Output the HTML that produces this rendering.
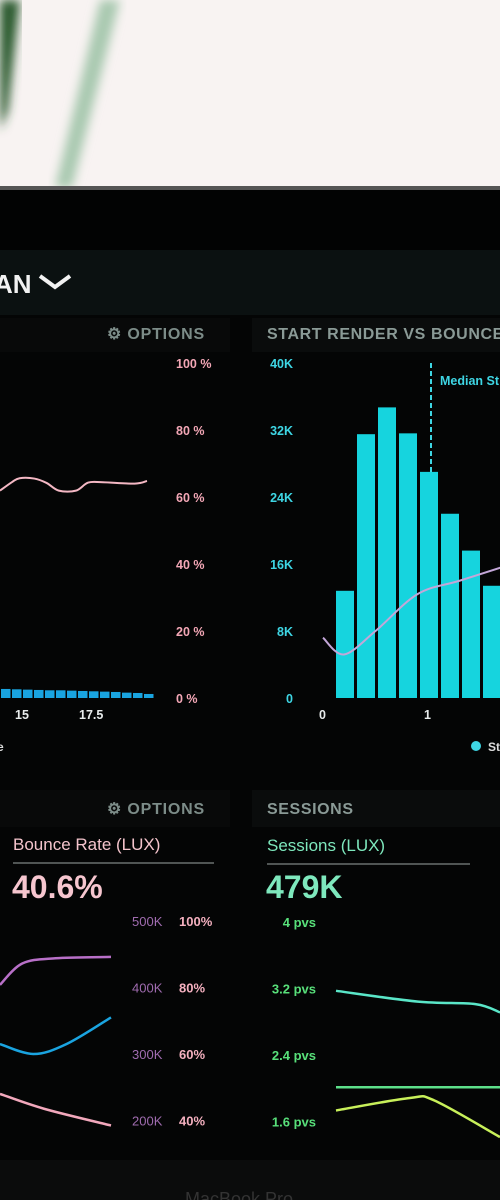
<!DOCTYPE html>
<html><head><meta charset="utf-8"><style>
body{margin:0;width:500px;height:1200px;overflow:hidden;background:#050606;font-family:"Liberation Sans",sans-serif}
svg{display:block}
text{font-family:"Liberation Sans",sans-serif;font-weight:bold}
</style></head><body>
<svg id="s" width="500" height="1200">
<defs>
<filter id="bl"><feGaussianBlur stdDeviation="5"/></filter>
</defs>
<rect x="0" y="0" width="500" height="188" fill="#f8f3f2"/>
<polygon points="0,0 20,0 8,110 0,130" fill="#2a5a2e" filter="url(#bl)"/>
<polygon points="100,0 120,0 72,188 55,188" fill="#a9c9b0" filter="url(#bl)"/>
<rect x="0" y="186" width="500" height="4" fill="#555"/>
<rect x="0" y="190" width="500" height="60" fill="#020303"/>
<rect x="0" y="250" width="500" height="65" fill="#0b1111"/>
<text x="-6" y="293" fill="#f2f2f2" font-size="26">AN</text>
<polyline points="40,276 55,287 70,276" fill="none" stroke="#f2f2f2" stroke-width="4"/>
<rect x="0" y="315" width="500" height="845" fill="#040505"/>
<rect x="0" y="318" width="230" height="34" fill="#080909"/>
<rect x="252" y="318" width="248" height="34" fill="#0a0c0c"/>
<text x="107" y="339" fill="#7c8c88" font-size="16" letter-spacing="0.8">⚙ OPTIONS</text>
<text x="267" y="339" fill="#8a9a96" font-size="16" letter-spacing="0.6">START RENDER VS BOUNCE</text>
<rect x="0" y="790" width="230" height="37" fill="#080909"/>
<rect x="252" y="790" width="248" height="37" fill="#0a0c0c"/>
<text x="107" y="814" fill="#7c8c88" font-size="16" letter-spacing="0.8">⚙ OPTIONS</text>
<text x="267" y="814" fill="#8a9a96" font-size="16" letter-spacing="0.6">SESSIONS</text>
<text x="13" y="850" fill="#f4c4cc" font-size="17" style="font-weight:normal">Bounce Rate (LUX)</text>
<line x1="13" y1="863" x2="214" y2="863" stroke="#6a706e" stroke-width="1.5"/>
<text x="12" y="898" fill="#f6c6cf" font-size="32">40.6%</text>
<text x="267" y="851" fill="#7ee8bd" font-size="17" style="font-weight:normal">Sessions (LUX)</text>
<line x1="267" y1="864" x2="470" y2="864" stroke="#6a706e" stroke-width="1.5"/>
<text x="266" y="898" fill="#7ee8bd" font-size="32">479K</text>
<rect x="0" y="1160" width="500" height="40" fill="#0b0c0c"/>
<text x="185" y="1205" fill="#333" font-size="18" style="font-weight:normal">MacBook Pro</text>
<g id="charts"></g>
</svg>
<script>
const pctTicks=["100 %","80 %","60 %","40 %","20 %","0 %"];
const kTicks=["40K","32K","24K","16K","8K","0"];
const histValues=[12.8,31.5,34.7,31.6,27,22,17.6,13.4];
const bounceCurve=[[0,61.9],[0.25,64.5],[0.4,65.6],[0.7,65.5],[0.95,64.2],[1.2,61.9],[1.55,61.9],[1.8,64.3],[2.1,64.4],[2.75,64],[3,64.8]];
const blueBars=[2.7,2.6,2.5,2.4,2.3,2.3,2.2,2.1,2,1.9,1.8,1.6,1.5,1.2];
const leftXTicks=["15","17.5"];
const renderBounce=[[0,18],[0.2,13],[0.5,20],[0.9,31],[1.3,35],[1.7,39]];
const histXTicks=["0","1"];
const kTicksB=["500K","400K","300K","200K"];
const pctTicksB=["100%","80%","60%","40%"];
const pvsTicks=["4 pvs","3.2 pvs","2.4 pvs","1.6 pvs"];
const purpleSeries=[[0,404],[0.2,436],[0.5,444],[1,446]];
const blueSeries=[[0,63],[0.3,60],[0.6,63],[1,71]];
const pinkSeries=[[0,48],[0.4,43.5],[1,38.5]];
const tealSeries=[[0,3.16],[0.5,3.03],[0.85,3.0],[1,2.9]];
const greenSeries=[[0,2.0],[1,2.0]];
const limeSeries=[[0,1.72],[0.45,1.87],[0.6,1.84],[1,1.4]];

const NS="http://www.w3.org/2000/svg";
const G=document.getElementById('charts');
function mk(tag,attrs,name,txt){const e=document.createElementNS(NS,tag);for(const k in attrs)e.setAttribute(k,attrs[k]);


if(txt!==undefined)e.textContent=txt;G.appendChild(e);return e;}
function path(pts,fx,fy){return pts.map((p,i)=>(i?'L':'M')+fx(p[0]).toFixed(1)+','+fy(p[1]).toFixed(1)).join(' ');}
function smooth(pts,fx,fy){const P=pts.map(p=>[fx(p[0]),fy(p[1])]);let d='M'+P[0].join(',');
for(let i=0;i<P.length-1;i++){const p0=P[i-1]||P[i],p1=P[i],p2=P[i+1],p3=P[i+2]||p2;
const c1=[p1[0]+(p2[0]-p0[0])/6,p1[1]+(p2[1]-p0[1])/6],c2=[p2[0]-(p3[0]-p1[0])/6,p2[1]-(p3[1]-p1[1])/6];
d+=` C${c1.join(',')} ${c2.join(',')} ${p2.join(',')}`;}return d;}

// top-left chart
const yPct=v=>698-v*3.35;
pctTicks.forEach((t,i)=>mk('text',{x:176,y:368+i*67,fill:'#f3a7b6','font-size':12.5},'y-axis-pct-label',t));
const xL=v=>v*49;
mk('path',{d:smooth(bounceCurve,xL,yPct),fill:'none',stroke:'#f4b8c4','stroke-width':2},'bounce-line');
blueBars.forEach((v,i)=>mk('rect',{x:1+i*11,y:yPct(v),width:9.5,height:v*3.35,fill:'#19a4e0'},'session-bar'));
leftXTicks.forEach((t,i)=>mk('text',{x:15+i*64,y:719,fill:'#e8ecec','font-size':12.5},'x-axis-label',t));
mk('text',{x:-3,y:751,fill:'#ddd','font-size':12},'legend-label','e');

// top-right histogram
const yK=v=>698-v*8.375;
kTicks.forEach((t,i)=>mk('text',{x:293,y:368+i*67,fill:'#3ed6e4','font-size':12.5,'text-anchor':'end'},'y-axis-k-label',t));
const xB=i=>336+i*21;
histValues.forEach((v,i)=>mk('rect',{x:xB(i),y:yK(v),width:18,height:v*8.375,fill:'#16d4de'},'hist-bar'));
mk('line',{x1:431,y1:363,x2:431,y2:472,stroke:'#3ed6e4','stroke-width':2,'stroke-dasharray':'5,3'},'median-line');
mk('text',{x:440,y:385,fill:'#3ed6e4','font-size':12.5},'median-label','Median St');
const xR=v=>323+v*105;
mk('path',{d:smooth(renderBounce,xR,v=>698-v*3.35),fill:'none',stroke:'#c3a6d8','stroke-width':2},'render-bounce-line');
histXTicks.forEach((t,i)=>mk('text',{x:319+i*105,y:719,fill:'#e8ecec','font-size':12.5},'x-axis-label',t));
mk('circle',{cx:476,cy:746,r:5,fill:'#3ed6e4'},'legend-dot');
mk('text',{x:488,y:751,fill:'#ddd','font-size':12},'legend-label','St');

// bottom-left
kTicksB.forEach((t,i)=>mk('text',{x:132,y:926+i*66.5,fill:'#a06cb0','font-size':13,style:'font-weight:normal'},'y-axis-k-label',t));
pctTicksB.forEach((t,i)=>mk('text',{x:179,y:926+i*66.5,fill:'#f4b0bf','font-size':13},'y-axis-pct-label',t));
const xBL=v=>v*111, yBK=v=>921+(500-v)*0.665, yBP=v=>921+(100-v)*3.325;
mk('path',{d:smooth(purpleSeries,xBL,yBK),fill:'none',stroke:'#b870c8','stroke-width':2.5},'purple-line');
mk('path',{d:smooth(blueSeries,xBL,yBP),fill:'none',stroke:'#1aa4e0','stroke-width':2.5},'blue-line');
mk('path',{d:smooth(pinkSeries,xBL,yBP),fill:'none',stroke:'#f2a8bc','stroke-width':2.5},'pink-line');

// bottom-right
pvsTicks.forEach((t,i)=>mk('text',{x:316,y:927+i*66.5,fill:'#58e07a','font-size':13,'text-anchor':'end'},'y-axis-pvs-label',t));
const xBR=v=>336+v*164, yPV=v=>921+(4-v)*83.1;
mk('path',{d:smooth(tealSeries,xBR,yPV),fill:'none',stroke:'#5ae6c8','stroke-width':2.5},'teal-line');
mk('path',{d:path(greenSeries,xBR,yPV),fill:'none',stroke:'#5de08a','stroke-width':2.5},'green-line');
mk('path',{d:smooth(limeSeries,xBR,yPV),fill:'none',stroke:'#c8f05a','stroke-width':2.5},'lime-line');
</script>
</body></html>
